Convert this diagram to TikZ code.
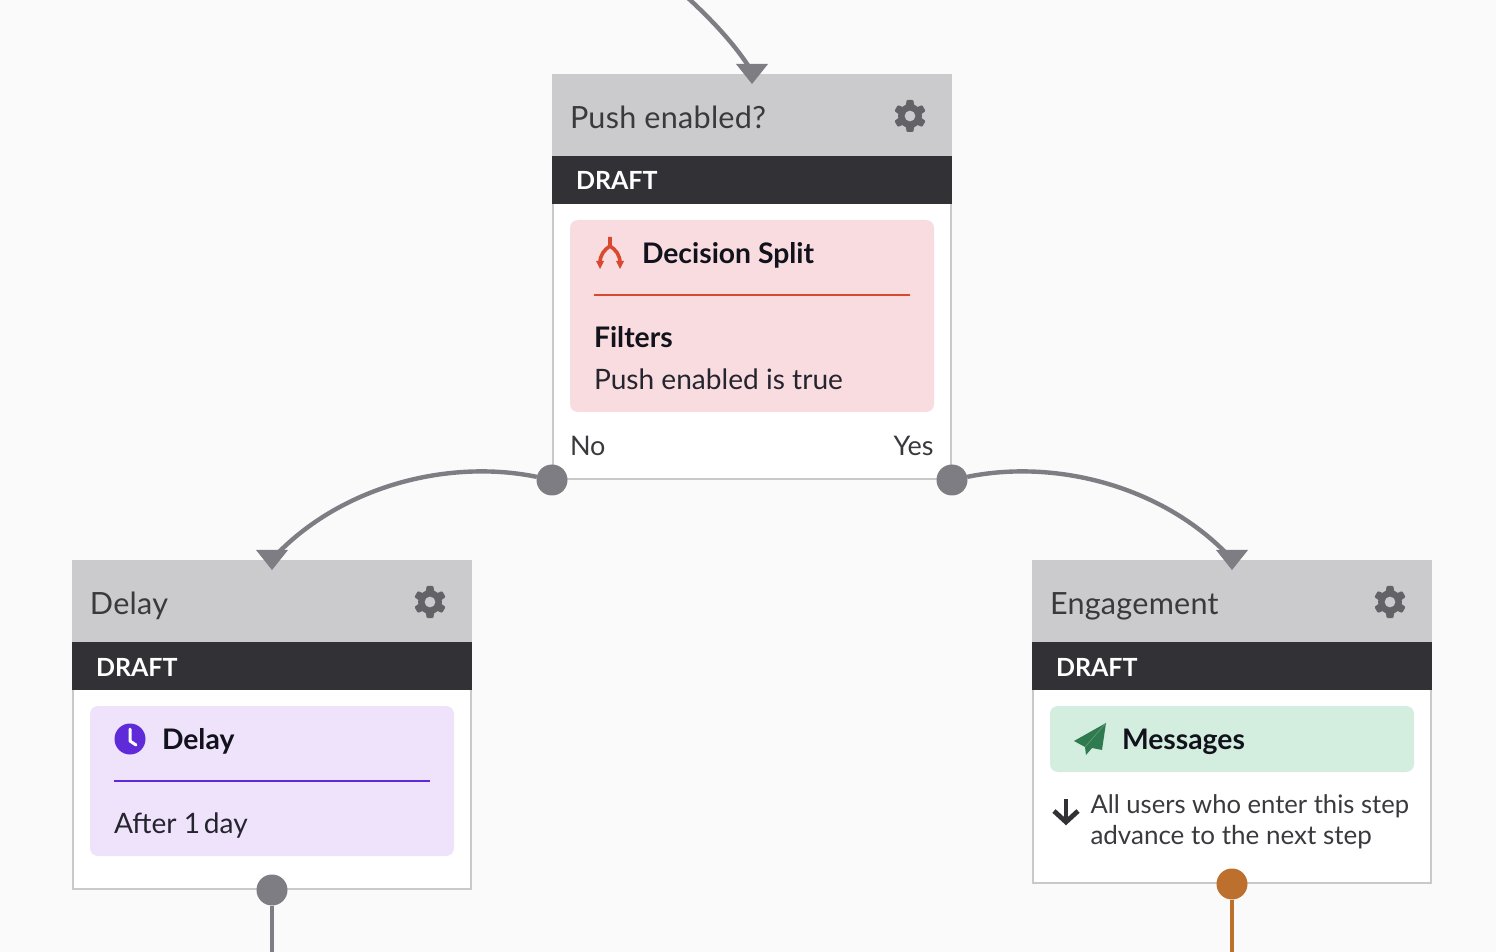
\documentclass[tikz,border=0pt]{standalone}
\usepackage{fontspec}
\setmainfont{Lato}
\usetikzlibrary{arrows.meta}
\definecolor{bgc}{HTML}{FAFAFA}
\definecolor{headc}{HTML}{CBCBCD}
\definecolor{darkc}{HTML}{323136}
\definecolor{borderc}{HTML}{C9C9CB}
\definecolor{dotc}{HTML}{7E7D83}
\definecolor{orangec}{HTML}{BD702E}
\definecolor{pinkc}{HTML}{F9DCDF}
\definecolor{redc}{HTML}{D9492F}
\definecolor{lilac}{HTML}{EFE2FB}
\definecolor{purplec}{HTML}{5F2BD9}
\definecolor{greenc}{HTML}{D3EDDF}
\definecolor{leafc}{HTML}{2F7A4F}
\definecolor{textc}{HTML}{3A3A3E}
\definecolor{inkc}{HTML}{11121C}
\definecolor{gearc}{HTML}{636267}
\tikzset{
  x=0.5pt,y=-0.5pt,
  headbar/.style={anchor=north west,inner sep=0,outer sep=0,fill=headc,minimum width=200pt,minimum height=41pt},
  draftbar/.style={anchor=north west,inner sep=0,outer sep=0,fill=darkc,minimum width=200pt,minimum height=24pt},
  bodybox/.style={anchor=north west,inner sep=0,outer sep=0,fill=white,draw=borderc,line width=1pt,minimum width=199pt},
  panel/.style={anchor=north west,inner sep=0,outer sep=0,rounded corners=4pt,minimum width=182pt},
  title/.style={anchor=base west,inner sep=0,outer sep=0,text=textc,font=\fontsize{15.3}{18}\selectfont\addfontfeature{LetterSpace=0.8}},
  drafttext/.style={anchor=base west,inner sep=0,outer sep=0,text=white,font=\fontsize{12.5}{15}\selectfont\bfseries},
  headtext/.style={anchor=base west,inner sep=0,outer sep=0,text=inkc,font=\fontsize{14.15}{17}\selectfont\bfseries},
  bodytext/.style={anchor=base west,inner sep=0,outer sep=0,text=inkc!92!white,font=\fontsize{14.05}{17}\selectfont},
  smalltext/.style={anchor=base west,inner sep=0,outer sep=0,text=textc},
  dot/.style={circle,fill=dotc,inner sep=0,outer sep=0,minimum size=15.5pt},
  conn/.style={draw=dotc,line width=2.2pt},
  pics/gearicon/.style={code={
    \fill[gearc,even odd rule]
      (0,0) circle (5.5)
      (0,0) circle (12);
    \foreach \a in {0,60,...,300}{
      \fill[gearc,rotate=\a,rounded corners=0.5pt] (-4.2,-10) -- (-3.4,-16) -- (3.4,-16) -- (4.2,-10) -- cycle;
    }
  }},
  pics/tipicon/.style={code={
    \fill[dotc] (-16,-20) -- (16,-20) -- (0,0) -- cycle;
  }},
}
\begin{document}
\begin{tikzpicture}
\fill[bgc] (0,0) rectangle (1496,952);
\useasboundingbox (0,0) rectangle (1496,952);

% centre step
\node[bodybox,minimum height=138pt] (cBody) at (553,203) {};
\node[headbar] (cHead) at (552,74) {};
\node[draftbar] (cDraft) at (552,156) {};
\node[title] (cTitle) at (570,128.5) {Push enabled?};
\node[drafttext] (cDraftT) at (576,190) {DRAFT};
\node[panel,fill=pinkc,minimum height=96pt] (cPanel) at (570,220) {};
\node[headtext] (cHeadT) at (642,264) {Decision Split};
\node[headtext] (cFilt) at (594,348) {Filters};
\node[bodytext] (cVal) at (594,390) {Push enabled is true};
\node[title,font=\fontsize{13.5}{16}\selectfont] (cNo) at (570,455.5) {No};
\node[title,font=\fontsize{13.5}{16}\selectfont,anchor=base east] (cYes) at (933.5,455.5) {Yes};
\coordinate (cRuleA) at (594,295);
\coordinate (cRuleB) at (910,295);
\draw[redc,line width=1pt] (cRuleA) -- (cRuleB);
\pic at (910,116) {gearicon};
% split icon
\draw[redc,line width=1.8pt] (610,237) -- (610,246) .. controls (604,250) and (600,255) .. (600,263);
\draw[redc,line width=1.8pt] (610,246) .. controls (616,250) and (620,255) .. (620,263);
\fill[redc] (596,261) -- (604,261) -- (600,269) -- cycle;
\fill[redc] (616,261) -- (624,261) -- (620,269) -- cycle;

% left step
\node[bodybox,minimum height=100pt] (lBody) at (73,689) {};
\node[headbar] (lHead) at (72,560) {};
\node[draftbar] (lDraft) at (72,642) {};
\node[title] (lTitle) at (90,614) {Delay};
\node[drafttext] (lDraftT) at (96,676) {DRAFT};
\node[panel,fill=lilac,minimum height=75pt] (lPanel) at (90,706) {};
\node[headtext] (lHeadT) at (162,749) {Delay};
\node[bodytext] (lVal) at (114,833) {After 1\kern-1.7pt{} day};
\coordinate (lRuleA) at (114,781);
\coordinate (lRuleB) at (430,781);
\draw[purplec,line width=1pt] (lRuleA) -- (lRuleB);
\pic at (430,602) {gearicon};
\fill[purplec] (130,739) circle (15.5);
\draw[white,line width=1.5pt,line cap=round,line join=round] (130,729) -- (130,741) -- (136,745);

% right step
\node[bodybox,minimum height=97pt] (rBody) at (1033,689) {};
\node[headbar] (rHead) at (1032,560) {};
\node[draftbar] (rDraft) at (1032,642) {};
\node[title] (rTitle) at (1050,614) {Engagement};
\node[drafttext] (rDraftT) at (1056,676) {DRAFT};
\node[panel,fill=greenc,minimum height=33pt] (rPanel) at (1050,706) {};
\node[headtext] (rHeadT) at (1122,749) {Messages};
\node[smalltext,font=\fontsize{12.8}{16}\selectfont] (rL1) at (1090.5,813) {All users who enter this step};
\node[smalltext,font=\fontsize{13}{16}\selectfont] (rL2) at (1090.5,844) {advance to the next step};
\pic at (1390,602) {gearicon};
\fill[leafc] (1106,723) -- (1074,741) -- (1085,747) -- (1086,755) -- (1092,748) -- (1102,750) -- cycle;
\draw[leafc!75!greenc,line width=0.4pt] (1106,723) -- (1085,747);
\draw[darkc,line width=2.2pt] (1066,799) -- (1066,822);
\draw[darkc,line width=2.4pt] (1054,811) -- (1066,822) -- (1078,811);

% ports
\node[dot] (pNo) at (552,480) {};
\node[dot] (pYes) at (952,480) {};
\node[dot] (pDelay) at (272,890) {};
\node[dot,fill=orangec] (pEng) at (1232,884) {};

% connectors
\coordinate (topIn) at (688,-2);
\coordinate (topEnd) at (751,70);
\coordinate (lEnd) at (278,553);
\coordinate (rEnd) at (1226,553);
\coordinate (delayOut) at (272,954);
\coordinate (engOut) at (1232,954);
\draw[conn] (topIn) .. controls (714,22) and (736,46) .. (topEnd);
\draw[conn] (pNo) .. controls (450,459) and (345,485) .. (lEnd);
\draw[conn] (pYes) .. controls (1054,459) and (1159,485) .. (rEnd);
\draw[conn] (pDelay) -- (delayOut);
\draw[conn,draw=orangec] (pEng) -- (engOut);
\pic at (752,84) {tipicon};
\pic at (272,570) {tipicon};
\pic at (1232,570) {tipicon};
\end{tikzpicture}
\end{document}
